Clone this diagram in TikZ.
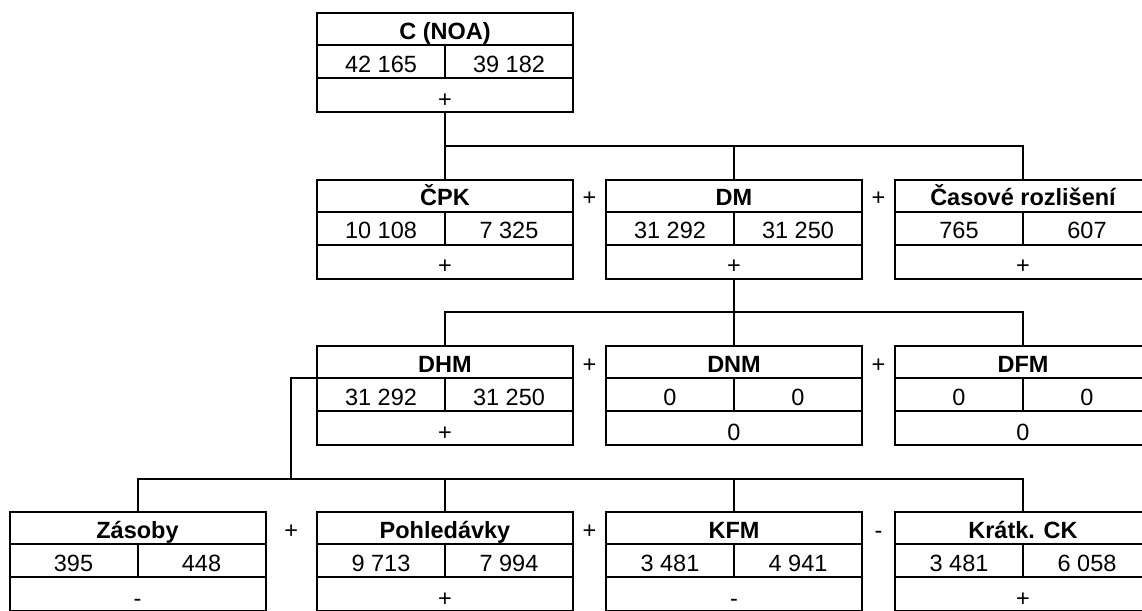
\documentclass[tikz,border=0pt]{standalone}
\usepackage{fontspec}
\setmainfont{Liberation Sans}
\usetikzlibrary{positioning,calc}

\newcommand{\bigfont}{\fontsize{23.5}{28}\selectfont}

% box: name, position, title, left value, right value, sign
\newcommand{\ratiobox}[6]{%
  \node[statbox] (#1) at (#2) {};
  \draw[rule] ($(#1.north west)+(0,33)$) -- ($(#1.north east)+(0,33)$);
  \draw[rule] ($(#1.north west)+(0,66)$) -- ($(#1.north east)+(0,66)$);
  \draw[rule] ($(#1.north)+(0,33)$) -- ($(#1.north)+(0,66)$);
  \node[title] (#1-t) at ($(#1.north)+(0,19)$) {#3};
  \node[val] (#1-a) at ($(#1.north)+(-64,52)$) {#4};
  \node[val] (#1-b) at ($(#1.north)+(64,52)$) {#5};
  \node[val] (#1-s) at ($(#1.north)+(0,87)$) {#6};
}

\begin{document}
\begin{tikzpicture}[
    x=1pt, y=-1pt,
    statbox/.style={rectangle, draw, line width=2pt, minimum width=256pt, minimum height=99pt, inner sep=0pt},
    rule/.style={line width=2pt},
    val/.style={font=\bigfont, inner sep=0pt, text height=16.8pt, text depth=0pt},
    title/.style={val, font=\bigfont\bfseries},
    sign/.style={val},
    link/.style={line width=2pt}
]
\useasboundingbox (0,0) rectangle (1142,610);

% ===== LEVEL 1 =====
\ratiobox{noa}{445,62.5}{C (NOA)}{42 165}{39 182}{+}

% ===== LEVEL 2 =====
\ratiobox{cpk}{445,229}{ČPK}{10 108}{7 325}{+}
\ratiobox{dm}{734,229}{DM}{31 292}{31 250}{+}
\ratiobox{cas}{1023,229}{Časové rozlišení}{765}{607}{+}

% ===== LEVEL 3 =====
\ratiobox{dhm}{445,395.5}{DHM}{31 292}{31 250}{+}
\ratiobox{dnm}{734,395.5}{DNM}{0}{0}{0}
\ratiobox{dfm}{1023,395.5}{DFM}{0}{0}{0}

% ===== LEVEL 4 =====
\ratiobox{zas}{137.5,561.5}{Zásoby}{395}{448}{-}
\ratiobox{pohl}{445,561.5}{Pohledávky}{9 713}{7 994}{+}
\ratiobox{kfm}{734,561.5}{KFM}{3 481}{4 941}{-}
\ratiobox{kck}{1023,561.5}{Krátk. CK}{3 481}{6 058}{+}

% ===== SIGNS =====
\path (cpk.east |- cpk-t) -- node[sign] (op1) {+} (dm.west |- dm-t);
\path (dm.east |- dm-t) -- node[sign] (op2) {+} (cas.west |- cas-t);
\path (dhm.east |- dhm-t) -- node[sign] (op3) {+} (dnm.west |- dnm-t);
\path (dnm.east |- dnm-t) -- node[sign] (op4) {+} (dfm.west |- dfm-t);
\path (zas.east |- zas-t) -- node[sign] (op5) {+} (pohl.west |- pohl-t);
\path (pohl.east |- pohl-t) -- node[sign] (op6) {+} (kfm.west |- kfm-t);
\path (kfm.east |- kfm-t) -- node[sign] (op7) {-} (kck.west |- kck-t);

% ===== LINKS =====
\coordinate (bus1) at ($(noa.south)!0.5!(cpk.north)$);
\draw[link] (noa.south) -- (cpk.north);
\draw[link] (bus1) -| (cas.north);
\draw[link] (dm.north) -- (dm.north |- bus1);

\coordinate (bus2) at ($(dm.south)!0.5!(dnm.north)$);
\draw[link] (dm.south) -- (dnm.north);
\draw[link] (dhm.north) |- (bus2) -| (dfm.north);

\coordinate (bus3) at ($(dhm.south)!0.5!(pohl.north)$);
\coordinate (bend) at ($(zas.east)!0.5!(pohl.west)$);
\draw[link] (zas.north) |- (bus3) -| (kck.north);
\draw[link] (pohl.north) -- (bus3);
\draw[link] (kfm.north) -- (kfm.north |- bus3);
\draw[link] ($(dhm.north west)+(0,33)$) -| (bend |- bus3);

\end{tikzpicture}
\end{document}
